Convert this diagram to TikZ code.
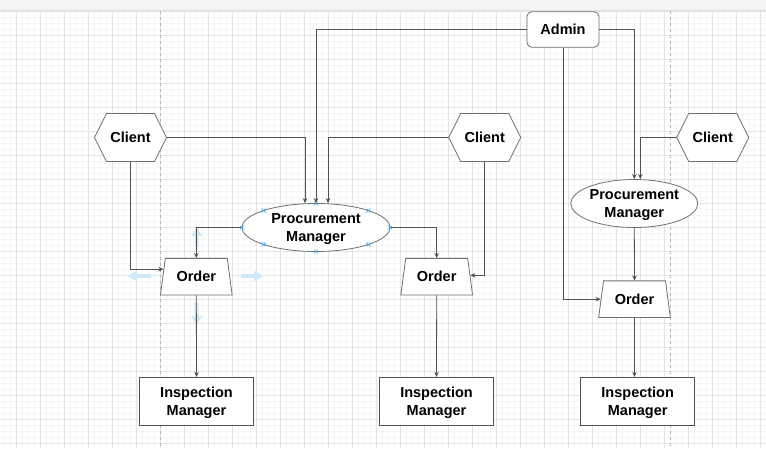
\documentclass[tikz,border=0pt]{standalone}
\usepackage{fontspec}
\setmainfont{Liberation Sans}
\usetikzlibrary{shapes.geometric,arrows.meta,calc}
\definecolor{gridmin}{HTML}{F6F6F6}
\definecolor{gridmaj}{HTML}{E4E4E4}
\definecolor{shapeline}{HTML}{707070}
\definecolor{conn}{HTML}{505050}
\definecolor{hoverblue}{HTML}{D0E9F8}
\definecolor{xblue}{HTML}{3AA6E8}
\definecolor{topbar}{HTML}{F2F4F6}
\definecolor{topline}{HTML}{DCDEE1}
\definecolor{pagedash}{HTML}{B8B8B8}
\newcommand\hexat[2]{\draw[hexline] (#1-36,#2) -- ++(12,-24) -- ++(48,0) -- ++(12,24) -- ++(-12,24) -- ++(-48,0) -- cycle;}
\begin{document}
\begin{tikzpicture}[x=1pt,y=-1pt,
  lbl/.style={font=\fontsize{14.5}{17.5}\selectfont\bfseries, align=center, text=black},
  hexline/.style={draw=shapeline, fill=white, line width=0.8pt},
  hexbox/.style={lbl, rectangle, minimum width=72pt, minimum height=48pt, inner sep=0pt},
  pmell/.style={lbl, ellipse, draw=shapeline, fill=white, minimum height=48pt, inner sep=0pt, line width=0.8pt, text depth=0pt},
  ordbox/.style={lbl, trapezium, trapezium left angle=73.7, trapezium right angle=73.7, trapezium stretches=true, minimum width=72pt, minimum height=36.7pt, draw=shapeline, fill=white, inner sep=0pt, line width=0.8pt},
  inspbox/.style={lbl, rectangle, draw=conn, fill=white, minimum width=114pt, minimum height=48pt, inner sep=0pt, line width=0.8pt, text depth=0pt},
  adminbox/.style={lbl, rectangle, rounded corners=5pt, draw=shapeline, fill=white, minimum width=72pt, minimum height=35.6pt, inner sep=0pt, line width=0.8pt},
  link/.style={draw=conn, line width=0.8pt, -{Stealth[length=5pt,width=4.5pt]}},
  hover/.style={fill=hoverblue, draw=none},
  xmark/.style={draw=xblue, line width=0.6pt},
]
\useasboundingbox (0,0) rectangle (766,448);
\fill[white] (0,0) rectangle (766,448);
% grid
\foreach \x in {4.7,10.7,...,766} \draw[gridmin, line width=0.7pt] (\x,11) -- (\x,448);
\foreach \y in {17.3,23.3,...,448} \draw[gridmin, line width=0.7pt] (0,\y) -- (766,\y);
\foreach \x in {16.7,40.7,...,766} \draw[gridmaj, line width=0.8pt] (\x,11) -- (\x,448);
\foreach \y in {11.3,35.3,...,448} \draw[gridmaj, line width=0.8pt] (0,\y) -- (766,\y);
% page boundaries
\draw[pagedash, line width=0.7pt, dash pattern=on 3pt off 3pt] (160.7,11) -- (160.7,448);
\draw[pagedash, line width=0.7pt, dash pattern=on 3pt off 3pt] (670.7,11) -- (670.7,448);
% top bar
\fill[topbar] (0,0) rectangle (766,10.5);
\draw[topline, line width=0.8pt] (0,10.5) -- (766,10.5);
% hover arrows
\fill[hover] (128,276) -- (137,270.5) -- (137,274) -- (151,274) -- (151,278) -- (137,278) -- (137,281.5) -- cycle;
\fill[hover] (263,276) -- (254,270.5) -- (254,274) -- (241,274) -- (241,278) -- (254,278) -- (254,281.5) -- cycle;
\fill[hover] (196.7,227) -- (191.2,236) -- (194.7,236) -- (194.7,247) -- (198.7,247) -- (198.7,236) -- (202.2,236) -- cycle;
\fill[hover] (196.7,325) -- (191.2,316) -- (194.7,316) -- (194.7,303) -- (198.7,303) -- (198.7,316) -- (202.2,316) -- cycle;
% clients
\hexat{130.5}{137.5}
\hexat{484.7}{137.5}
\hexat{712.7}{137.5}
\node[hexbox] (c1) at (130.5,137.5) {Client};
\node[hexbox] (c2) at (484.7,137.5) {Client};
\node[hexbox] (c3) at (712.7,137.5) {Client};
% admin
\node[adminbox] (admin) at (563,29.5) {Admin};
% procurement managers
\node[pmell, minimum width=148pt] (pm1) at (316,227.5) {Procurement\\Manager};
\node[pmell, minimum width=127pt] (pm2) at (634.3,203.5) {Procurement\\Manager};
% orders
\node[ordbox] (o1) at (196.3,276.7) {Order};
\node[ordbox] (o2) at (436.7,276.7) {Order};
\node[ordbox] (o3) at (634.5,299.2) {Order};
% inspection managers
\node[inspbox] (i1) at (196.5,401.3) {Inspection\\Manager};
\node[inspbox] (i2) at (436.5,401.3) {Inspection\\Manager};
\node[inspbox] (i3) at (637.7,401.3) {Inspection\\Manager};
% connectors
\draw[link] (c1.east) -| ([xshift=-11pt]pm1.north);
\draw[link] (admin.west) -| (pm1.north);
\draw[link] (c2.west) -| ([xshift=12pt]pm1.north);
\draw[link] (pm1.west) -| (o1.north);
\draw[link] (pm1.east) -| (o2.north);
\draw[link] (c1.south) |- ($(o1.bottom left corner)!0.7!(o1.top left corner)$);
\draw[link] (c2.south) |- ($(o2.bottom right corner)!0.537!(o2.top right corner)$);
\draw[link] (admin.east) -| (pm2.north);
\draw[link] (c3.west) -| ([xshift=6pt]pm2.north);
\draw[link] (admin.south) |- ($(o3.bottom left corner)!0.5!(o3.top left corner)$);
\draw[link] (pm2.south) -- (o3.north);
\draw[link] (o1.south) -- (i1.north);
\draw[link] (o2.south) -- (i2.north);
\draw[link] (o3.south) -- (o3.south |- i3.north);
% selection marks on the left procurement manager
\foreach \a in {0,45,...,315}
  \draw[xmark] ({316+74*cos(\a)-2},{227.5-24*sin(\a)-2}) -- ++(4,4) ++(-4,0) -- ++(4,-4);
\end{tikzpicture}
\end{document}
